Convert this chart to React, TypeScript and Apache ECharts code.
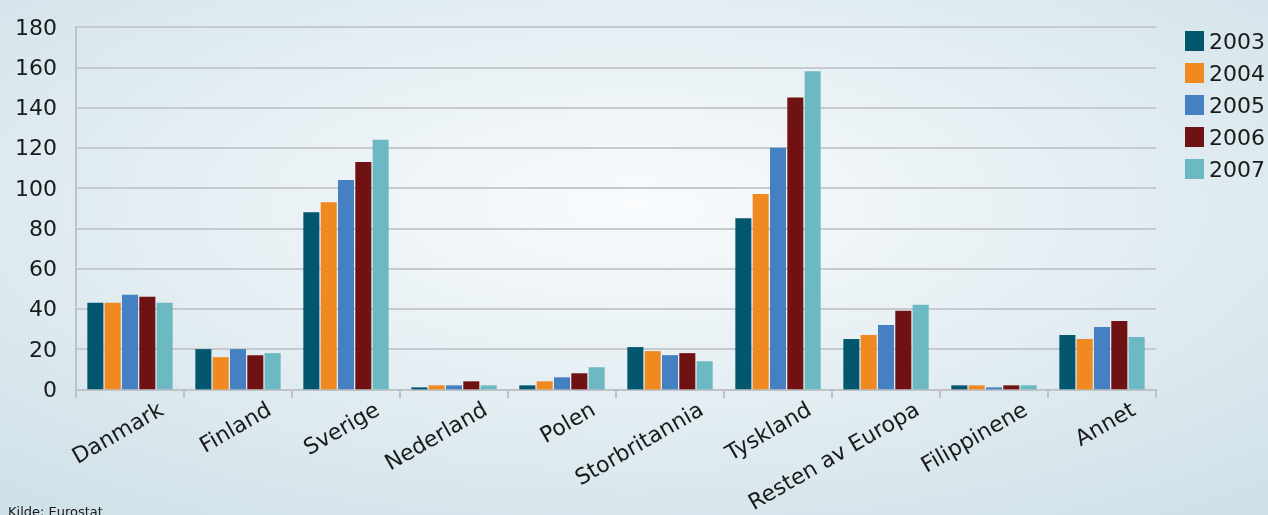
import React, { useEffect, useRef } from "react";
import * as echarts from "echarts";

const categories = ["Danmark", "Finland", "Sverige", "Nederland", "Polen", "Storbritannia", "Tyskland", "Resten av Europa", "Filippinene", "Annet"];
const years = ["2003", "2004", "2005", "2006", "2007"];
const v2003 = [43, 20, 88, 1, 2, 21, 85, 25, 2, 27];
const v2004 = [43, 16, 93, 2, 4, 19, 97, 27, 2, 25];
const v2005 = [47, 20, 104, 2, 6, 17, 120, 32, 1, 31];
const v2006 = [46, 17, 113, 4, 8, 18, 145, 39, 2, 34];
const v2007 = [43, 18, 124, 2, 11, 14, 158, 42, 2, 26];
const seriesValues = [v2003, v2004, v2005, v2006, v2007];
const colors = ["#02566E", "#F0891F", "#4580C2", "#701213", "#6CB8C3"];
const source = "Kilde: Eurostat";

export default function App() {
  const ref = useRef<HTMLDivElement>(null);
  useEffect(() => {
    if (!ref.current) return;
    const chart = echarts.init(ref.current, null, { renderer: "svg" });
    const font = "'DejaVu Sans', Verdana, sans-serif";
    chart.setOption({
      animation: false,
      backgroundColor: {
        type: "radial",
        x: 0.5,
        y: 0.4,
        r: 0.75,
        colorStops: [
          { offset: 0, color: "#f9fbfd" },
          { offset: 1, color: "#cfe1e8" },
        ],
      },
      textStyle: { fontFamily: font },
      legend: {
        orient: "vertical",
        left: 1180,
        top: 25,
        icon: "rect",
        itemWidth: 19,
        itemHeight: 20,
        itemGap: 10,
        textStyle: { fontSize: 22, color: "#1a1a1a", fontFamily: font },
        data: years,
      },
      graphic: [
        {
          type: "text",
          left: 8,
          top: 505,
          style: { text: source, fontSize: 13, fill: "#1a1a1a", fontFamily: font },
        },
      ],
      grid: { left: 76, right: 112, top: 27, bottom: 125, containLabel: false },
      xAxis: {
        type: "category",
        data: categories,
        axisLine: { show: true, lineStyle: { color: "#bfc3c7", width: 2 } },
        axisTick: { show: true, length: 9, lineStyle: { color: "#bfc3c7", width: 2 } },
        axisLabel: {
          rotate: 30,
          interval: 0,
          margin: 36,
          fontSize: 22,
          color: "#1a1a1a",
          fontFamily: font,
          padding: [0, -36, 0, 0],
        },
      },
      yAxis: {
        type: "value",
        min: 0,
        max: 180,
        interval: 20,
        axisLine: { show: true, lineStyle: { color: "#bfc3c7", width: 2 } },
        axisTick: { show: false },
        splitLine: { show: true, lineStyle: { color: "#c6c9cd", width: 2 } },
        axisLabel: { fontSize: 22, color: "#1a1a1a", margin: 19, fontFamily: font },
      },
      series: seriesValues.map((vals, i) => ({
        type: "bar",
        name: years[i],
        data: vals,
        barGap: "8%",
        barCategoryGap: "21%",
        itemStyle: { color: colors[i] },
      })),
    });
    return () => chart.dispose();
  }, []);
  return <div ref={ref} style={{ position: "fixed", left: 0, top: 0, width: 1268, height: 515 }} />;
}
